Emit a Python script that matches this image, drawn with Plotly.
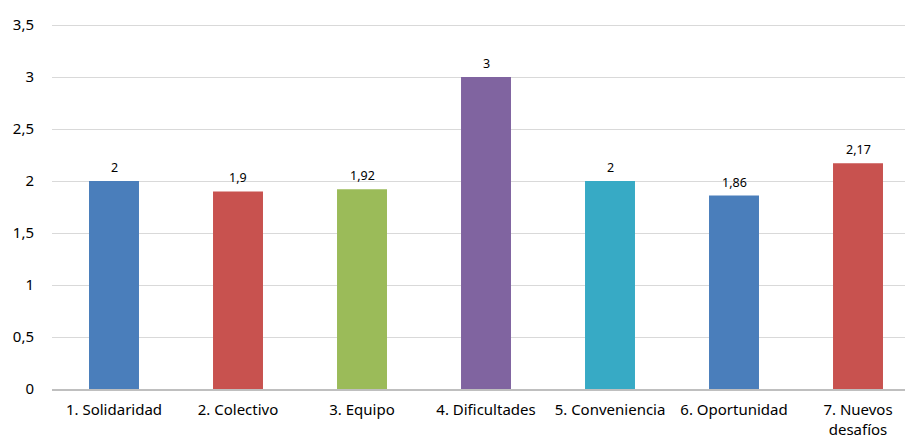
import plotly.graph_objects as go

categories = ["1. Solidaridad", "2. Colectivo", "3. Equipo", "4. Dificultades",
              "5. Conveniencia", "6. Oportunidad", "7. Nuevos<br>desafíos"]
values = [2, 1.9, 1.92, 3, 2, 1.86, 2.17]
colors = ["#4a7ebb", "#c8524f", "#9bbb59", "#8064a0", "#37aac5", "#4a7ebb", "#c8524f"]
y_ticks = [0, 0.5, 1, 1.5, 2, 2.5, 3, 3.5]
y_tick_labels = ["0", "0,5", "1", "1,5", "2", "2,5", "3", "3,5"]

labels = [f"{v:g}".replace(".", ",") for v in values]

fig = go.Figure(go.Bar(
    x=categories, y=values, marker_color=colors, marker_line_width=0,
))

for c, v, t in zip(categories, values, labels):
    fig.add_annotation(x=c, y=v, text=t, showarrow=False, yanchor="bottom",
                       yshift=3, font=dict(size=12.5, color="#000000"))

fig.update_layout(
    width=913, height=441,
    margin=dict(l=44, r=0, t=15, b=60),
    paper_bgcolor="white", plot_bgcolor="white",
    bargap=0.597,
    showlegend=False,
    font=dict(family="Noto Sans, Liberation Sans, sans-serif", size=15, color="#000000"),
)
fig.update_yaxes(range=[0, 3.52], tickvals=y_ticks, ticktext=y_tick_labels,
                 showgrid=True, gridcolor="#d9d9d9", gridwidth=1,
                 zeroline=False, showline=False, automargin=False,
                 ticks="outside", ticklen=14, tickcolor="rgba(0,0,0,0)",
                 tickfont=dict(size=15))
fig.update_xaxes(range=[-0.5, 6.508], showline=True, linecolor="#bfbfbf", linewidth=2,
                 showgrid=False, automargin=False,
                 ticks="outside", ticklen=6, tickcolor="rgba(0,0,0,0)",
                 tickfont=dict(size=15))

fig.write_html("out.html")
